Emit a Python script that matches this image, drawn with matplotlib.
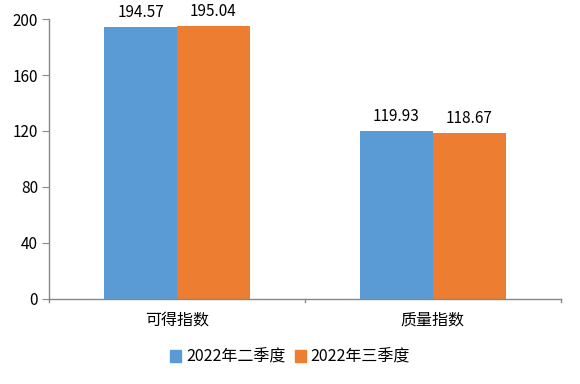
import matplotlib
matplotlib.use("Agg")
import matplotlib.pyplot as plt
import numpy as np
from matplotlib.patches import Patch

plt.rcParams['font.family'] = ['Noto Sans CJK SC', 'DejaVu Sans']

categories = ['可得指数', '质量指数']
series_names = ['2022年二季度', '2022年三季度']
q2_values = [194.57, 119.93]
q3_values = [195.04, 118.67]
colors = ['#5B9BD5', '#ED7D31']
yticks = [0, 40, 80, 120, 160, 200]

fig = plt.figure(figsize=(5.8, 3.84), dpi=100)
ax = fig.add_axes([0.0845, 0.2214, 0.967 - 0.0845, 0.9505 - 0.2214])

x = np.arange(len(categories))
w = 0.285
b1 = ax.bar(x - w / 2, q2_values, w, color=colors[0], label=series_names[0])
b2 = ax.bar(x + w / 2, q3_values, w, color=colors[1], label=series_names[1])

for bars, vals in [(b1, q2_values), (b2, q3_values)]:
    for r, v in zip(bars, vals):
        ax.text(r.get_x() + r.get_width() / 2, v + 4, f'{v:.2f}',
                ha='center', va='bottom', fontsize=11, color='#000000')

ax.set_xlim(-0.5, len(categories) - 0.5)
ax.set_ylim(0, 200)
ax.set_yticks(yticks)
ax.set_yticklabels([str(t) for t in yticks], fontsize=11)
ax.set_xticks(x)
ax.set_xticklabels(categories, fontsize=11.5)
ax.tick_params(axis='x', length=0, pad=9)
ax.tick_params(axis='y', length=5, color='#888888', pad=3)

# category boundary ticks on x-axis
for xb in [-0.5, 0.5, 1.5]:
    ax.plot([xb, xb], [0, -2.2], color='#888888', lw=1, clip_on=False)

for s in ['top', 'right']:
    ax.spines[s].set_visible(False)
for s in ['left', 'bottom']:
    ax.spines[s].set_color('#888888')
    ax.spines[s].set_linewidth(1)

handles = [Patch(color=c) for c in colors]
fig.legend(handles, series_names, loc='center', bbox_to_anchor=(0.5, 0.07),
           ncol=2, frameon=False, fontsize=11.5, handlelength=0.7, handleheight=0.7,
           handletextpad=0.3, columnspacing=0.6)

fig.savefig('out.png', dpi=100)
